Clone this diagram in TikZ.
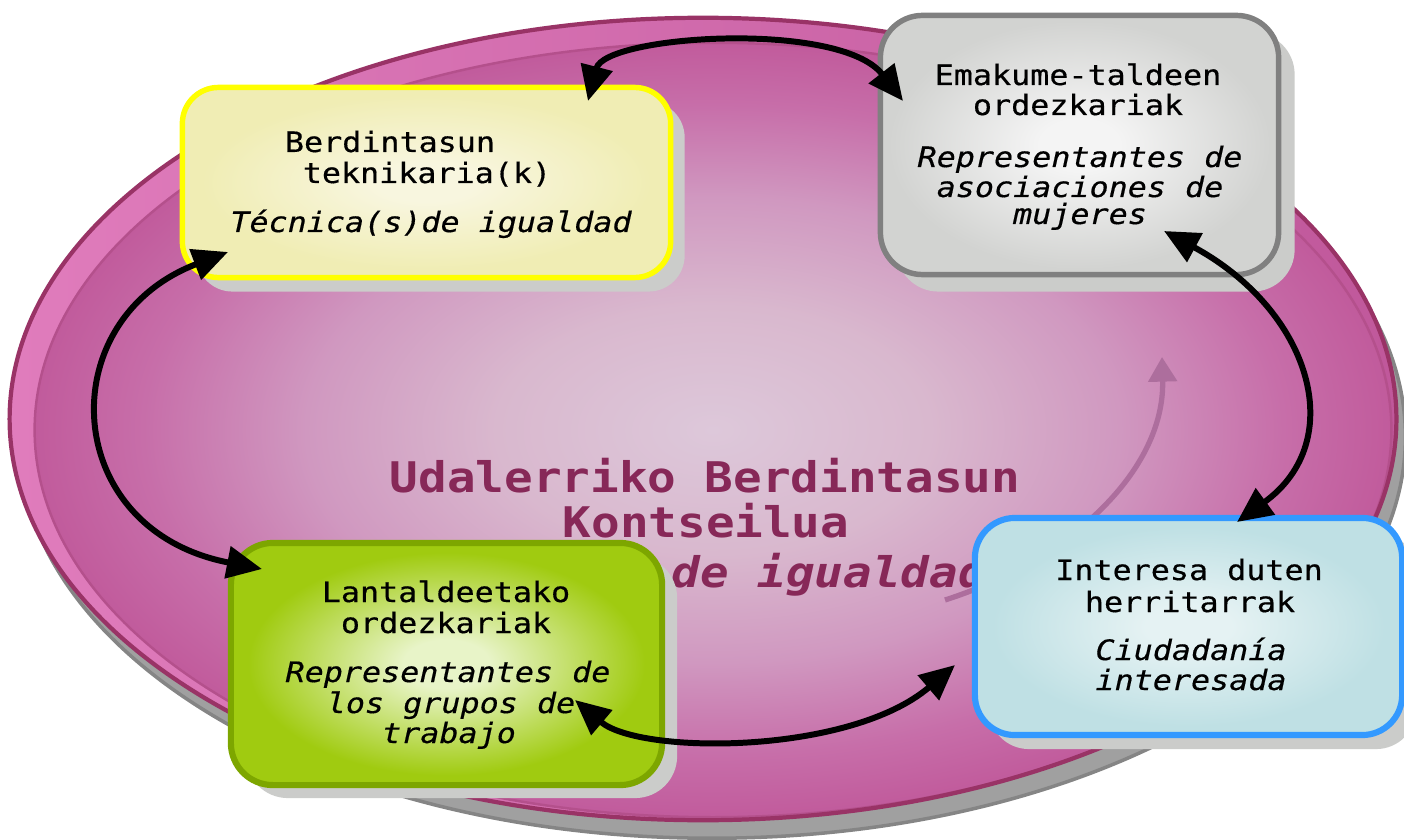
\documentclass[tikz,border=0pt]{standalone}
\usepackage{fontspec}
\newfontfamily\boxfont[FakeStretch=1.128,FakeBold=0.45]{DejaVu Sans Mono}
\newfontfamily\titlefont[FakeStretch=1.128]{DejaVu Sans Mono}
\usetikzlibrary{arrows.meta,shadows}
\definecolor{elA}{HTML}{DDC8DA}
\definecolor{elB}{HTML}{D9B8CE}
\definecolor{elC}{HTML}{D098C0}
\definecolor{elD}{HTML}{C76EA9}
\definecolor{elE}{HTML}{C15B9C}
\definecolor{ringL}{HTML}{E07CBC}
\definecolor{ringR}{HTML}{C0589B}
\definecolor{ellborder}{HTML}{993366}
\definecolor{innerline}{HTML}{B4508C}
\definecolor{shadowE}{HTML}{A0A0A0}
\definecolor{shadowEdge}{HTML}{858585}
\definecolor{boxshadow}{HTML}{CBCCCA}
\definecolor{titlec}{HTML}{872858}
\definecolor{faintarrow}{HTML}{AD6E9D}
\definecolor{yC}{HTML}{F8F6DF}
\definecolor{yE}{HTML}{F0EDB4}
\definecolor{yB}{HTML}{FFFF00}
\definecolor{gC}{HTML}{F4F4F4}
\definecolor{gE}{HTML}{D2D3D1}
\definecolor{gB}{HTML}{808080}
\definecolor{grC}{HTML}{E8F4C8}
\definecolor{grE}{HTML}{A0CB10}
\definecolor{grB}{HTML}{7DA600}
\definecolor{bC}{HTML}{E5F2F3}
\definecolor{bE}{HTML}{BFE0E4}
\definecolor{bB}{HTML}{3399FF}
\pgfdeclareradialshading{innerell}{\pgfpoint{0bp}{0bp}}{color(0bp)=(elA); color(8bp)=(elB); color(15bp)=(elC); color(21bp)=(elD); color(25bp)=(elE); color(50bp)=(elE)}
\pgfdeclareradialshading{yshade}{\pgfpoint{0bp}{0bp}}{color(0bp)=(yC); color(5bp)=(yC); color(23bp)=(yE); color(50bp)=(yE)}
\pgfdeclareradialshading{gshade}{\pgfpoint{0bp}{0bp}}{color(0bp)=(gC); color(5bp)=(gC); color(24bp)=(gE); color(50bp)=(gE)}
\pgfdeclareradialshading{grshade}{\pgfpoint{0bp}{0bp}}{color(0bp)=(grC); color(5bp)=(grC); color(23bp)=(grE); color(50bp)=(grE)}
\pgfdeclareradialshading{bshade}{\pgfpoint{0bp}{0bp}}{color(0bp)=(bC); color(5bp)=(bC); color(23bp)=(bE); color(50bp)=(bE)}
\tikzset{
  boxshape/.style={rectangle, rounded corners=0.36cm, inner sep=0pt, line width=1.55pt},
  lbl/.style={font=\boxfont\fontsize{8}{9}\selectfont, anchor=base, inner sep=0pt, text=black},
  lbli/.style={font=\boxfont\fontsize{8}{9}\selectfont\itshape, anchor=base, inner sep=0pt, text=black},
  ttl/.style={font=\titlefont\bfseries\fontsize{12}{13}\selectfont, anchor=base, inner sep=0pt, text=titlec},
  ttli/.style={font=\titlefont\bfseries\itshape\fontsize{12}{13}\selectfont, anchor=base west, inner sep=0pt, text=titlec},
  link/.style={line width=1.7pt, {Triangle[length=10pt,width=9pt]}-{Triangle[length=10pt,width=9pt]}},
}
\begin{document}
\begin{tikzpicture}[x=0.01cm,y=-0.01cm]
\useasboundingbox (0,0) rectangle (1404,840);
% big ellipse
\fill[shadowE, draw=shadowEdge, line width=1pt] (712,437) ellipse [x radius=6.93cm, y radius=4.01cm];
\shade[left color=ringL, right color=ringR] (703,419) ellipse [x radius=6.93cm, y radius=4.01cm];
\shade[shading=innerell] (713,430) ellipse [x radius=6.78cm, y radius=3.87cm];
\draw[innerline, line width=0.7pt] (713,430) ellipse [x radius=6.78cm, y radius=3.87cm];
\draw[ellborder, line width=1.2pt] (703,419) ellipse [x radius=6.93cm, y radius=4.01cm];
% faint arrow
\coordinate (fa0) at (945,600);
\coordinate (fa1) at (1162,357);
\draw[faintarrow, line width=1.5pt, -{Triangle[length=7pt,width=8pt]}] (fa0) .. controls (1070,560) and (1165,470) .. (fa1);
% title
\node[ttl] (t1) at (705,492) {Udalerriko Berdintasun};
\node[ttl] (t2) at (706,537) {Kontseilua};
\node[ttli] (t3) at (671,587) {de igualdad};
% boxes
\node[boxshape, draw=yB, shading=yshade, minimum width=4.88cm, minimum height=1.90cm,
      drop shadow={shadow xshift=0.14cm, shadow yshift=-0.14cm, fill=boxshadow, opacity=1}] (ybox) at (426.5,182.5) {};
\node[boxshape, draw=gB, shading=gshade, minimum width=3.98cm, minimum height=2.59cm, rounded corners=0.42cm,
      drop shadow={shadow xshift=0.16cm, shadow yshift=-0.17cm, fill=boxshadow, opacity=1}] (gbox) at (1079.5,145) {};
\node[boxshape, draw=grB, shading=grshade, line width=1.75pt, minimum width=4.31cm, minimum height=2.42cm, rounded corners=0.42cm,
      drop shadow={shadow xshift=0.15cm, shadow yshift=-0.13cm, fill=boxshadow, opacity=1}] (grbox) at (446.5,664) {};
\node[boxshape, draw=bB, shading=bshade, line width=1.75pt, minimum width=4.27cm, minimum height=2.17cm, rounded corners=0.40cm,
      drop shadow={shadow xshift=0.14cm, shadow yshift=-0.14cm, fill=boxshadow, opacity=1}] (bbox) at (1188.5,626.5) {};
% texts
\node[lbl] (y1) at (390,152) {Berdintasun};
\node[lbl] (y2) at (427,183) {teknikaria(k)};
\node[lbli] (y3) at (431,232) {Técnica(s)de igualdad};
\node[lbl] (g1) at (1078,85) {Emakume-taldeen};
\node[lbl] (g2) at (1078,115) {ordezkariak};
\node[lbli] (g3) at (1080,167) {Representantes de};
\node[lbli] (g4) at (1080,197) {asociaciones de};
\node[lbli] (g5) at (1080,224) {mujeres};
\node[lbl] (n1) at (446,602) {Lantaldeetako};
\node[lbl] (n2) at (446,633) {ordezkariak};
\node[lbli] (n3) at (448,682) {Representantes de};
\node[lbli] (n4) at (451,713) {los grupos de};
\node[lbli] (n5) at (449,743) {trabajo};
\node[lbl] (b1) at (1189,580) {Interesa duten};
\node[lbl] (b2) at (1190,612) {herritarrak};
\node[lbli] (b3) at (1191,660) {Ciudadanía};
\node[lbli] (b4) at (1191,690) {interesada};
% connector end points
\coordinate (yTop) at (588,101);
\coordinate (gLeft) at (903,101);
\coordinate (gBot) at (1164,231);
\coordinate (bTop) at (1237,522);
\coordinate (bLeft) at (955,665);
\coordinate (grRight) at (575,700);
\coordinate (grLeft) at (262,569);
\coordinate (yLow) at (228,252);
% connectors
\draw[link] (yTop) .. controls (605,35) and (840,20) .. (gLeft);
\draw[link] (gBot) .. controls (1310,310) and (1350,440) .. (bTop);
\draw[link] (bLeft) .. controls (850,755) and (640,755) .. (grRight);
\draw[link] (grLeft) .. controls (60,530) and (50,320) .. (yLow);
\end{tikzpicture}
\end{document}
